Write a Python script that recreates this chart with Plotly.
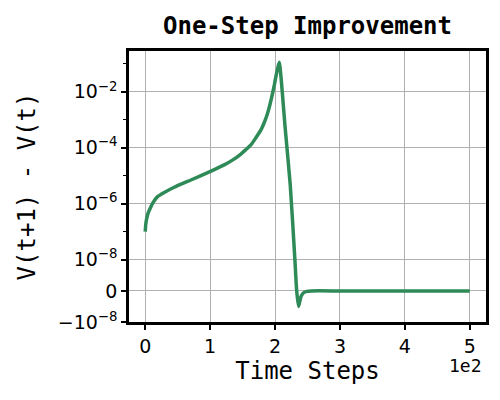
import numpy as np
import plotly.graph_objects as go

# ---- data ----
time_steps = [0, 1, 3.6, 5, 8.8, 12, 19, 30, 44.7, 70.4, 99.7, 121.7, 135, 147.4,
              155, 162.8, 170, 178.3, 184, 188.5, 192, 196.2, 199, 201.3, 204, 206.5,
              215.7, 223.4, 230.6, 233.2, 236.2, 240, 244, 249, 256, 300, 400, 500]
improvement = [1.02e-7, 2.03e-7, 4.0e-7, 5.0e-7, 7.9e-7, 1.1e-6, 1.81e-6, 2.6e-6, 3.9e-6,
               7.1e-6, 1.41e-5, 2.45e-5, 3.7e-5, 6.0e-5,
               8.6e-5, 1.27e-4, 2.2e-4, 4.35e-4, 8.7e-4, 1.72e-3, 3.4e-3, 8.9e-3, 1.8e-2,
               3.5e-2, 6.9e-2, 1.14e-1,
               4.8e-4, 4.8e-6, 1.0e-8, 3.2e-10, -5.0e-9, -1.8e-9, -6.0e-10, -1.5e-10,
               0.0, 0.0, 0.0, 0.0]

x_tick_vals = [0, 100, 200, 300, 400, 500]
x_tick_text = ["0", "1", "2", "3", "4", "5"]
y_tick_vals = [-1e-8, 0, 1e-8, 1e-6, 1e-4, 1e-2]
y_tick_text = ["\u221210<sup>\u22128</sup>", "0", "10<sup>\u22128</sup>", "10<sup>\u22126</sup>",
               "10<sup>\u22124</sup>", "10<sup>\u22122</sup>"]
y_minor_vals = [1e-7, 1e-5, 1e-3, 1e-1]

LINTHRESH = 1e-8
LINSCALE = 1.0 / (1.0 - 0.1)


def symlog(v):
    v = np.asarray(v, dtype=float)
    a = np.abs(v)
    out = np.where(a <= LINTHRESH, v / LINTHRESH * LINSCALE,
                   np.sign(v) * (LINSCALE + np.log10(np.maximum(a, 1e-300) / LINTHRESH)))
    return out


fig = go.Figure()
fig.add_trace(go.Scatter(
    x=time_steps, y=symlog(improvement), mode="lines",
    line=dict(color="#2E8B57", width=3.5, shape="spline", smoothing=0.5),
    showlegend=False, hoverinfo="skip"))

tick_font = dict(family="DejaVu Sans", size=19, color="black")
mono = "DejaVu Sans Mono"

fig.update_layout(
    width=500, height=400,
    margin=dict(l=129, r=14, t=51, b=78),
    paper_bgcolor="white", plot_bgcolor="white",
    title=dict(text="<b>One-Step Improvement</b>", x=0.5, xanchor="center",
               xref="paper", y=0.958, yanchor="top",
               font=dict(family=mono, size=24, color="black")),
    xaxis=dict(range=[-25, 525], tickmode="array", tickvals=x_tick_vals, ticktext=x_tick_text,
               ticks="outside", ticklen=5, tickwidth=2, tickcolor="black",
               showline=True, linecolor="black", linewidth=2.5, mirror=True,
               showgrid=True, gridcolor="#b0b0b0", gridwidth=1.1, zeroline=False,
               tickfont=tick_font, automargin=False,
               title=dict(text="Time Steps", font=dict(family=mono, size=24, color="black"),
                          standoff=4)),
    yaxis=dict(range=[-LINSCALE, 8.57], tickmode="array", tickvals=list(symlog(y_tick_vals)),
               ticktext=y_tick_text,
               ticks="outside", ticklen=5, tickwidth=2, tickcolor="black",
               showline=True, linecolor="black", linewidth=2.5, mirror=True,
               showgrid=True, gridcolor="#b0b0b0", gridwidth=1.1, zeroline=False,
               tickfont=tick_font, automargin=False,
               minor=dict(tickmode="array", tickvals=list(symlog(y_minor_vals)),
                          ticks="outside", ticklen=3, tickwidth=1.2, tickcolor="black",
                          showgrid=False),
               title=dict(text="V(t+1) - V(t)", font=dict(family=mono, size=24, color="black"),
                          standoff=16)),
)

fig.add_annotation(text="1e2", xref="paper", yref="paper", x=0.995, y=-0.115,
                   xanchor="right", yanchor="top", showarrow=False,
                   font=dict(family=mono, size=18, color="black"))

fig.write_html("out.html", config={"displayModeBar": False},
               post_script="document.body.style.margin='0';document.body.style.padding='0';")
